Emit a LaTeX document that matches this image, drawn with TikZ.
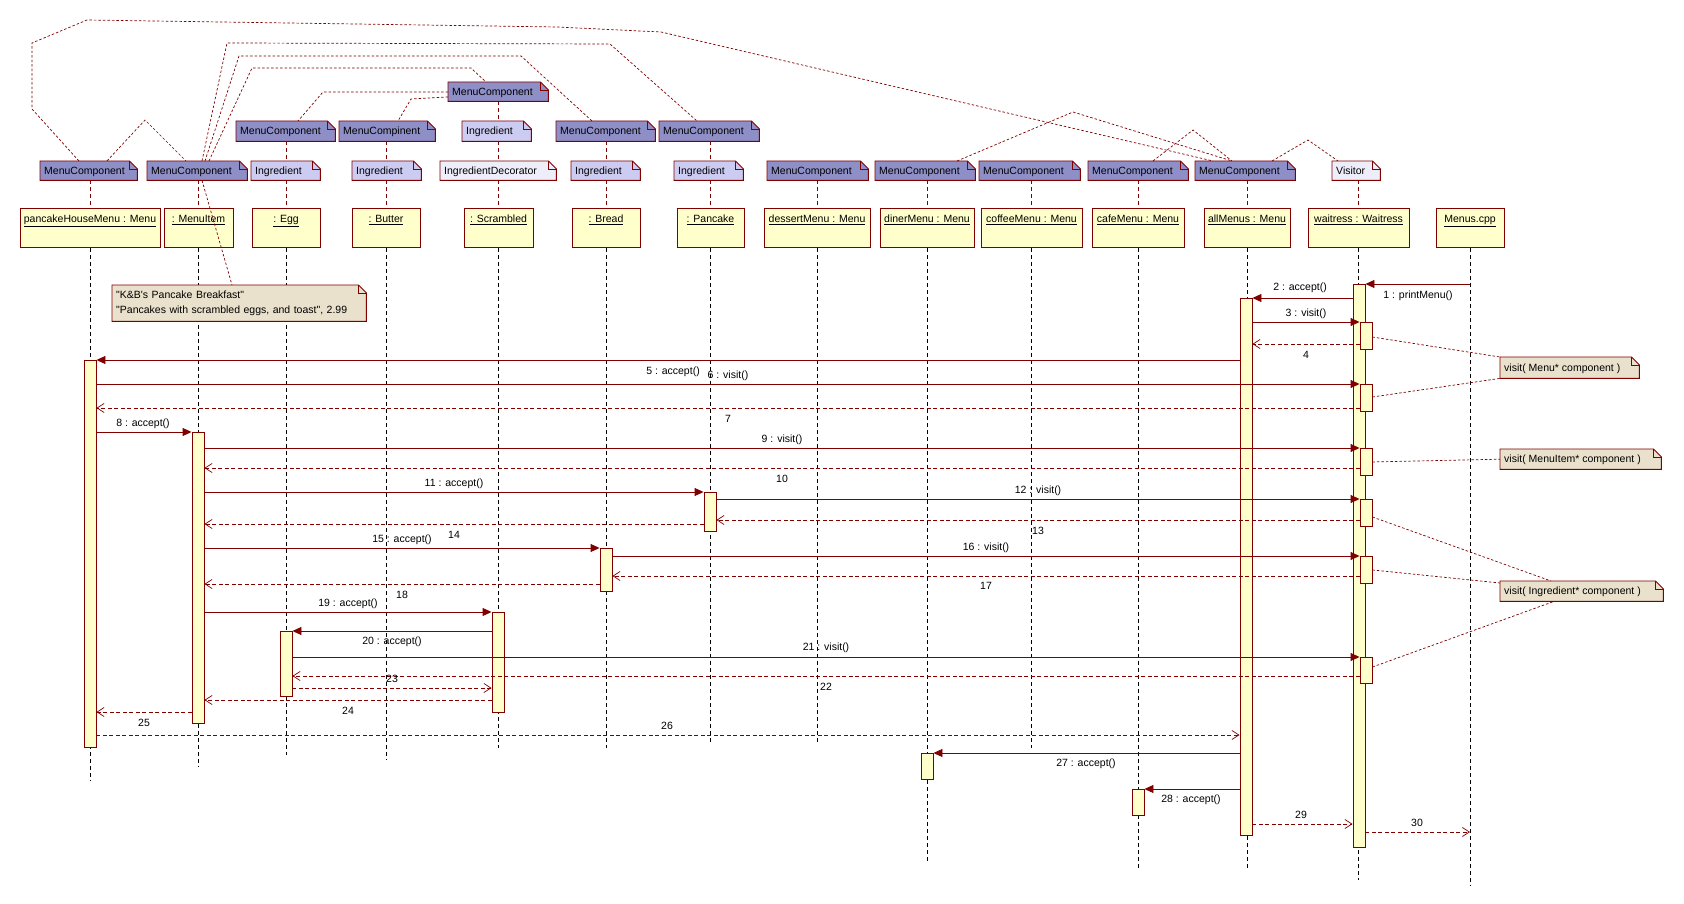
\documentclass[tikz,border=0pt]{standalone}
\usepackage{fontspec}
\newfontfamily\lsans{Liberation Sans}
\usetikzlibrary{arrows.meta}
\definecolor{mrn}{RGB}{128,0,0}
\definecolor{mcfill}{RGB}{143,143,200}
\definecolor{ingfill}{RGB}{204,204,242}
\definecolor{decfill}{RGB}{238,238,250}
\definecolor{objfill}{RGB}{255,255,204}
\definecolor{notefill}{RGB}{233,225,204}
\pgfdeclarelayer{bg}
\pgfsetlayers{bg,main}
\tikzset{
  obj/.style={draw=mrn, fill=objfill, line width=0.9pt, inner xsep=0pt, inner ysep=3pt, text height=11pt, text depth=22pt, anchor=north},
  notebox/.style={inner sep=0pt, text height=8pt, text depth=1pt, anchor=north west},
  act/.style={draw=mrn, fill=objfill, line width=0.9pt, minimum width=12pt, inner sep=0pt, anchor=north},
  lifeline/.style={draw=black, line width=0.8pt, dash pattern=on 4pt off 3pt},
  vlink/.style={draw=mrn, line width=0.8pt, dash pattern=on 4pt off 3pt},
  nlink/.style={draw=mrn, line width=0.7pt, dash pattern=on 2.5pt off 2pt},
  msg/.style={draw=mrn, line width=0.9pt, -{Triangle[length=9pt,width=8pt,fill=mrn]}},
  ret/.style={draw=mrn, line width=0.9pt, dash pattern=on 4pt off 2.5pt, -{Straight Barb[length=7pt,width=9pt,line width=0.7pt]}},
  lbl/.style={inner sep=0pt, text height=8pt, text depth=1pt}
}
\newcommand\umlnote[7]{%
  \node[notebox, minimum width=#4pt, minimum height=#5pt] (#1) at (#2,#3) {\makebox[#4pt][l]{\hspace{4pt}#7}};
  \begin{pgfonlayer}{bg}
    \filldraw[fill=#6, draw=mrn, line width=0.9pt] (#1.north west) -- ([xshift=-8pt]#1.north east) -- ([yshift=-8pt]#1.north east) -- (#1.south east) -- (#1.south west) -- cycle;
    \draw[mrn, line width=0.9pt] ([xshift=-8pt]#1.north east) |- ([yshift=-8pt]#1.north east);
  \end{pgfonlayer}}
\begin{document}
\begin{tikzpicture}[x=1pt, y=-1pt, font=\lsans\fontsize{10.5}{12}\selectfont]
\begin{pgfonlayer}{bg}
\fill[white] (0,0) rectangle (1684,904);
\end{pgfonlayer}
\path[use as bounding box] (0,0) rectangle (1684,904);

% object boxes
\node[obj, minimum width=140pt] (B1) at (90,208) {\underline{pancakeHouseMenu : Menu}};
\node[obj, minimum width=69pt] (B2) at (198.5,208) {\underline{: MenuItem}};
\node[obj, minimum width=68pt] (B3) at (286,208) {\underline{: Egg}};
\node[obj, minimum width=68pt] (B4) at (386,208) {\underline{: Butter}};
\node[obj, minimum width=69pt] (B5) at (498.5,208) {\underline{: Scrambled}};
\node[obj, minimum width=68pt] (B6) at (606,208) {\underline{: Bread}};
\node[obj, minimum width=67pt] (B7) at (710.5,208) {\underline{: Pancake}};
\node[obj, minimum width=106pt] (B8) at (817,208) {\underline{dessertMenu : Menu}};
\node[obj, minimum width=94pt] (B9) at (927,208) {\underline{dinerMenu : Menu}};
\node[obj, minimum width=101pt] (B10) at (1031.5,208) {\underline{coffeeMenu : Menu}};
\node[obj, minimum width=92pt] (B11) at (1138,208) {\underline{cafeMenu : Menu}};
\node[obj, minimum width=86pt] (B12) at (1247,208) {\underline{allMenus : Menu}};
\node[obj, minimum width=101pt] (B13) at (1358.5,208) {\underline{waitress : Waitress}};
\node[obj, minimum width=68pt] (B14) at (1470,208) {\underline{Menus.cpp}};

% lifelines
\begin{pgfonlayer}{bg}
\draw[lifeline] (B1.south) -- (B1 |- 0,780);
\draw[lifeline] (B2.south) -- (B2 |- 0,767);
\draw[lifeline] (B3.south) -- (B3 |- 0,755);
\draw[lifeline] (B4.south) -- (B4 |- 0,760);
\draw[lifeline] (B5.south) -- (B5 |- 0,748);
\draw[lifeline] (B6.south) -- (B6 |- 0,748);
\draw[lifeline] (B7.south) -- (B7 |- 0,743);
\draw[lifeline] (B8.south) -- (B8 |- 0,743);
\draw[lifeline] (B9.south) -- (B9 |- 0,863);
\draw[lifeline] (B10.south) -- (B10 |- 0,748);
\draw[lifeline] (B11.south) -- (B11 |- 0,868);
\draw[lifeline] (B12.south) -- (B12 |- 0,868);
\draw[lifeline] (B13.south) -- (B13 |- 0,880);
\draw[lifeline] (B14.south) -- (B14 |- 0,885);
\end{pgfonlayer}

% type notes
\umlnote{t5}{448}{82}{100}{19}{mcfill}{MenuComponent}
\umlnote{m3}{236}{121}{99}{20}{mcfill}{MenuComponent}
\umlnote{m4}{339}{121}{96}{20}{mcfill}{MenuCompinent}
\umlnote{m5}{462}{121}{69}{20}{ingfill}{Ingredient}
\umlnote{m6}{556}{121}{99}{20}{mcfill}{MenuComponent}
\umlnote{m7}{659}{121}{100}{20}{mcfill}{MenuComponent}
\umlnote{n1}{40}{161}{97}{19}{mcfill}{MenuComponent}
\umlnote{n2}{147}{161}{100}{19}{mcfill}{MenuComponent}
\umlnote{n3}{251}{161}{69}{19}{ingfill}{Ingredient}
\umlnote{n4}{352}{161}{69}{19}{ingfill}{Ingredient}
\umlnote{n5}{440}{161}{116}{19}{decfill}{IngredientDecorator}
\umlnote{n6}{571}{161}{69}{19}{ingfill}{Ingredient}
\umlnote{n7}{674}{161}{69}{19}{ingfill}{Ingredient}
\umlnote{n8}{767}{161}{101}{19}{mcfill}{MenuComponent}
\umlnote{n9}{875}{161}{100}{19}{mcfill}{MenuComponent}
\umlnote{n10}{979}{161}{101}{19}{mcfill}{MenuComponent}
\umlnote{n11}{1088}{161}{100}{19}{mcfill}{MenuComponent}
\umlnote{n12}{1195}{161}{100}{19}{mcfill}{MenuComponent}
\umlnote{n13}{1332}{161}{48}{19}{decfill}{Visitor}

% comment notes
\node[anchor=north west, inner xsep=4pt, inner ysep=0pt, text width=246pt, minimum height=36pt, align=left, font=\lsans\fontsize{10.5}{15}\selectfont] (kb) at (112,285) {"K\&B's Pancake Breakfast"\\"Pancakes with scrambled eggs, and toast", 2.99};
\begin{pgfonlayer}{bg}
  \filldraw[fill=notefill, draw=mrn, line width=0.9pt] (kb.north west) -- ([xshift=-8pt]kb.north east) -- ([yshift=-8pt]kb.north east) -- (kb.south east) -- (kb.south west) -- cycle;
  \draw[mrn, line width=0.9pt] ([xshift=-8pt]kb.north east) |- ([yshift=-8pt]kb.north east);
\end{pgfonlayer}
\umlnote{nm}{1500}{357}{139}{21}{notefill}{visit( Menu* component )}
\umlnote{ni}{1500}{449}{161}{20}{notefill}{visit( MenuItem* component )}
\umlnote{ng}{1500}{581}{163}{20}{notefill}{visit( Ingredient* component )}

% vertical links between stacked notes and boxes
\draw[vlink] (B1 |- n1.south) -- (B1.north);
\draw[vlink] (B2 |- n2.south) -- (B2.north);
\draw[vlink] (B3 |- m3.south) -- (B3 |- n3.north);
\draw[vlink] (B3 |- n3.south) -- (B3.north);
\draw[vlink] (B4 |- m4.south) -- (B4 |- n4.north);
\draw[vlink] (B4 |- n4.south) -- (B4.north);
\draw[vlink] (B5 |- t5.south) -- (B5 |- m5.north);
\draw[vlink] (B5 |- m5.south) -- (B5 |- n5.north);
\draw[vlink] (B5 |- n5.south) -- (B5.north);
\draw[vlink] (B6 |- m6.south) -- (B6 |- n6.north);
\draw[vlink] (B6 |- n6.south) -- (B6.north);
\draw[vlink] (B7 |- m7.south) -- (B7 |- n7.north);
\draw[vlink] (B7 |- n7.south) -- (B7.north);
\draw[vlink] (B8 |- n8.south) -- (B8.north);
\draw[vlink] (B9 |- n9.south) -- (B9.north);
\draw[vlink] (B10 |- n10.south) -- (B10.north);
\draw[vlink] (B11 |- n11.south) -- (B11.north);
\draw[vlink] (B12 |- n12.south) -- (B12.north);
\draw[vlink] (B13 |- n13.south) -- (B13.north);

% links between notes
\draw[nlink] ([xshift=39pt]n1.north west) -- (32,109) -- (32,43) -- (87,20) -- (557,27) -- (661,32) -- ([xshift=18pt]n12.north west);
\draw[nlink] ([xshift=55pt]n2.north west) -- (227,43) -- (610,44) -- ([xshift=38pt]m7.north west);
\draw[nlink] ([xshift=58pt]n2.north west) -- (239,56) -- (521,56) -- ([xshift=36pt]m6.north west);
\draw[nlink] ([xshift=62pt]n2.north west) -- (252,68) -- (471,68) -- ([xshift=38pt]t5.north west);
\draw[nlink] ([xshift=67pt]n1.north west) -- (145,120) -- ([xshift=39pt]n2.north west);
\draw[nlink] ([xshift=55pt]n2.south west) -- ([xshift=120pt]kb.north west);
\draw[nlink] ([yshift=-10pt]t5.north west) -- (323,92) -- ([xshift=62pt]m3.north west);
\draw[nlink] ([yshift=-15pt]t5.north west) -- (411,99) -- ([xshift=59pt]m4.north west);
\draw[nlink] ([xshift=82pt]n9.north west) -- (1073,112) -- ([xshift=37pt]n12.north west);
\draw[nlink] ([xshift=65pt]n11.north west) -- (1193,130) -- ([xshift=37pt]n12.north west);
\draw[nlink] ([xshift=77pt]n12.north west) -- (1308,140) -- ([xshift=6pt]n13.north west);

% activations
\node[act, minimum height=387pt] (A1) at (90,360) {};
\node[act, minimum height=291pt] (A2) at (198,432) {};
\node[act, minimum height=65pt] (A3) at (286,631) {};
\node[act, minimum height=100pt] (A5) at (498,612) {};
\node[act, minimum height=43pt] (A6) at (606,548) {};
\node[act, minimum height=39pt] (A7) at (710,492) {};
\node[act, minimum height=26pt] (A9) at (927,753) {};
\node[act, minimum height=26pt] (A11) at (1138,789) {};
\node[act, minimum height=537pt] (A12) at (1246,298) {};
\node[act, minimum height=563pt] (A13) at (1359,284) {};
\node[act, minimum height=27pt] (W1) at (1366,322) {};
\node[act, minimum height=27pt] (W2) at (1366,384) {};
\node[act, minimum height=27pt] (W3) at (1366,448) {};
\node[act, minimum height=27pt] (W4) at (1366,499) {};
\node[act, minimum height=27pt] (W5) at (1366,556) {};
\node[act, minimum height=26pt] (W6) at (1366,657) {};

% links to visit notes
\draw[nlink] ([yshift=-15pt]W1.north east) -- (nm.north west);
\draw[nlink] ([yshift=-13pt]W2.north east) -- (nm.south west);
\draw[nlink] (W3.east) -- (ni.west);
\draw[nlink] ([yshift=-18pt]W4.north east) -- ([xshift=51pt]ng.north west);
\draw[nlink] (W5.east) -- ([yshift=-2pt]ng.north west);
\draw[nlink] ([yshift=-10pt]W6.north east) -- ([xshift=54pt]ng.south west);

% messages
\draw[msg] (B14 |- 0,284) -- (A13.east |- 0,284);
\draw[msg] (A13.west |- 0,298) -- (A12.east |- 0,298);
\draw[msg] (A12.east |- 0,322) -- (W1.west |- 0,322);
\draw[ret] (W1.west |- 0,344) -- (A12.east |- 0,344);
\draw[msg] (A12.west |- 0,360) -- (A1.east |- 0,360);
\draw[msg] (A1.east |- 0,384) -- (W2.west |- 0,384);
\draw[ret] (W2.west |- 0,408) -- (A1.east |- 0,408);
\draw[msg] (A1.east |- 0,432) -- (A2.west |- 0,432);
\draw[msg] (A2.east |- 0,448) -- (W3.west |- 0,448);
\draw[ret] (W3.west |- 0,468) -- (A2.east |- 0,468);
\draw[msg] (A2.east |- 0,492) -- (A7.west |- 0,492);
\draw[msg] (A7.east |- 0,499) -- (W4.west |- 0,499);
\draw[ret] (W4.west |- 0,520) -- (A7.east |- 0,520);
\draw[ret] (A7.west |- 0,524) -- (A2.east |- 0,524);
\draw[msg] (A2.east |- 0,548) -- (A6.west |- 0,548);
\draw[msg] (A6.east |- 0,556) -- (W5.west |- 0,556);
\draw[ret] (W5.west |- 0,576) -- (A6.east |- 0,576);
\draw[ret] (A6.west |- 0,584) -- (A2.east |- 0,584);
\draw[msg] (A2.east |- 0,612) -- (A5.west |- 0,612);
\draw[msg] (A5.west |- 0,631) -- (A3.east |- 0,631);
\draw[msg] (A3.east |- 0,657) -- (W6.west |- 0,657);
\draw[ret] (W6.west |- 0,676) -- (A3.east |- 0,676);
\draw[ret] (A3.east |- 0,688) -- (A5.west |- 0,688);
\draw[ret] (A5.west |- 0,700) -- (A2.east |- 0,700);
\draw[ret] (A2.west |- 0,712) -- (A1.east |- 0,712);
\draw[ret] (A1.east |- 0,735) -- (A12.west |- 0,735);
\draw[msg] (A12.west |- 0,753) -- (A9.east |- 0,753);
\draw[msg] (A12.west |- 0,789) -- (A11.east |- 0,789);
\draw[ret] (A12.east |- 0,824) -- (A13.west |- 0,824);
\draw[ret] (A13.east |- 0,832) -- (B14 |- 0,832);

% message labels
\node[lbl] (l1) at (1418,295) {1 : printMenu()};
\node[lbl] (l2) at (1300,287) {2 : accept()};
\node[lbl] (l3) at (1306,313) {3 : visit()};
\node[lbl] (l4) at (1306,355) {4};
\node[lbl] (l5) at (673,371) {5 : accept()};
\node[lbl] (l6) at (728,375) {6 : visit()};
\node[lbl] (l7) at (728,419) {7};
\node[lbl] (l8) at (143,423) {8 : accept()};
\node[lbl] (l9) at (782,439) {9 : visit()};
\node[lbl] (l10) at (782,479) {10};
\node[lbl] (l11) at (454,483) {11 : accept()};
\node[lbl] (l12) at (1038,490) {12 : visit()};
\node[lbl] (l13) at (1038,531) {13};
\node[lbl] (l14) at (454,535) {14};
\node[lbl] (l15) at (402,539) {15 : accept()};
\node[lbl] (l16) at (986,547) {16 : visit()};
\node[lbl] (l17) at (986,586) {17};
\node[lbl] (l18) at (402,595) {18};
\node[lbl] (l19) at (348,603) {19 : accept()};
\node[lbl] (l20) at (392,641) {20 : accept()};
\node[lbl] (l21) at (826,647) {21 : visit()};
\node[lbl] (l22) at (826,687) {22};
\node[lbl] (l23) at (392,679) {23};
\node[lbl] (l24) at (348,711) {24};
\node[lbl] (l25) at (144,723) {25};
\node[lbl] (l26) at (667,726) {26};
\node[lbl] (l27) at (1086,763) {27 : accept()};
\node[lbl] (l28) at (1191,799) {28 : accept()};
\node[lbl] (l29) at (1301,815) {29};
\node[lbl] (l30) at (1417,823) {30};
\end{tikzpicture}
\end{document}
